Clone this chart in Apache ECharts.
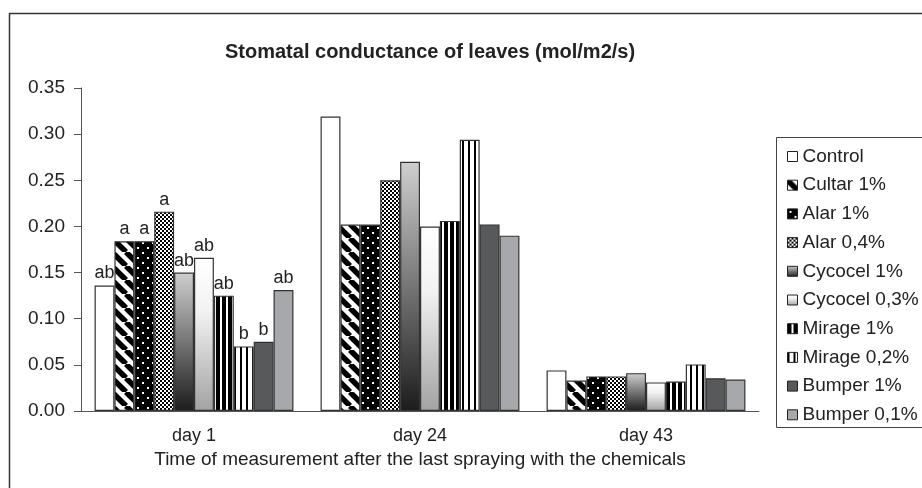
<!doctype html>
<html>
    <head>
        <meta charset="utf-8">
        <style>
            html, body { margin: 0; padding: 0; background: #fff; }
            #main { width: 922px; height: 488px; }
        </style>
    </head>
    <body>
        <div id="main"></div>
        <script src="https://cdn.jsdelivr.net/npm/echarts@6/dist/echarts.min.js"></script>
        <script>
            var days = ['day 1', 'day 24', 'day 43'];
            var treatments = ['Control', 'Cultar 1%', 'Alar 1%', 'Alar 0,4%', 'Cycocel 1%',
                'Cycocel 0,3%', 'Mirage 1%', 'Mirage 0,2%', 'Bumper 1%', 'Bumper 0,1%'];

            // one row per treatment: [day 1, day 24, day 43]
            var values = [
                [0.136, 0.319, 0.044],
                [0.184, 0.202, 0.033],
                [0.184, 0.202, 0.0375],
                [0.216, 0.250, 0.0375],
                [0.150, 0.270, 0.041],
                [0.166, 0.200, 0.031],
                [0.125, 0.206, 0.032],
                [0.070, 0.294, 0.0505],
                [0.075, 0.202, 0.0355],
                [0.131, 0.190, 0.034]
            ];
            // significance letters, day 1 only
            var letters = ['ab', 'a', 'a', 'a', 'ab', 'ab', 'ab', 'b', 'b', 'ab'];

            var font = "'Liberation Sans', Arial, sans-serif";

            function tile(w, h, draw) {
                var c = document.createElement('canvas');
                c.width = w;
                c.height = h;
                draw(c.getContext('2d'), w, h);
                return { image: c, repeat: 'repeat' };
            }

            var fills = [
                '#ffffff',
                tile(14, 14, function (g, s) {
                    g.fillStyle = '#fff';
                    g.fillRect(0, 0, s, s);
                    g.strokeStyle = '#000';
                    g.lineWidth = 5.5;
                    [-s, 0, s].forEach(function (k) {
                        g.beginPath();
                        g.moveTo(k, 0);
                        g.lineTo(k + s, s);
                        g.stroke();
                    });
                }),
                tile(10, 10, function (g, s) {
                    g.fillStyle = '#000';
                    g.fillRect(0, 0, s, s);
                    g.fillStyle = '#fff';
                    g.fillRect(2, 2, 2, 2);
                    g.fillRect(7, 7, 2, 2);
                }),
                tile(4, 4, function (g) {
                    g.fillStyle = '#fff';
                    g.fillRect(0, 0, 4, 4);
                    g.fillStyle = '#000';
                    g.fillRect(0, 0, 2, 2);
                    g.fillRect(2, 2, 2, 2);
                }),
                {
                    type: 'linear', x: 0, y: 0, x2: 0, y2: 1,
                    colorStops: [{ offset: 0, color: '#cfcfcf' }, { offset: 1, color: '#1c1c1c' }]
                },
                {
                    type: 'linear', x: 0, y: 0, x2: 0, y2: 1,
                    colorStops: [{ offset: 0, color: '#ffffff' }, { offset: 0.35, color: '#f2f2f2' }, { offset: 1, color: '#a2a2a2' }]
                },
                tile(6, 6, function (g) {
                    g.fillStyle = '#fff';
                    g.fillRect(0, 0, 6, 6);
                    g.fillStyle = '#000';
                    g.fillRect(0, 0, 4, 6);
                }),
                tile(6, 6, function (g) {
                    g.fillStyle = '#fff';
                    g.fillRect(0, 0, 6, 6);
                    g.fillStyle = '#000';
                    g.fillRect(0, 0, 2, 6);
                }),
                '#58595b',
                '#a7a8ab'
            ];

            var chart = echarts.init(document.getElementById('main'));

            var series = treatments.map(function (name, i) {
                return {
                    name: name,
                    type: 'bar',
                    barGap: '0%',
                    barCategoryGap: '12%',
                    itemStyle: {
                        color: fills[i],
                        borderColor: '#333',
                        borderWidth: 1.2
                    },
                    emphasis: { disabled: true },
                    data: values[i].map(function (v, d) {
                        var item = { value: v };
                        if (d === 0) {
                            item.label = {
                                show: true,
                                position: 'top',
                                distance: 3,
                                formatter: letters[i],
                                fontFamily: font,
                                fontSize: 18,
                                color: '#222'
                            };
                        }
                        return item;
                    })
                };
            });

            chart.setOption({
                animation: false,
                backgroundColor: '#fff',
                title: {
                    text: 'Stomatal conductance of leaves (mol/m2/s)',
                    left: 220,
                    top: 37,
                    textStyle: {
                        fontFamily: font,
                        fontSize: 20,
                        fontWeight: 'bold',
                        color: '#222'
                    }
                },
                legend: {
                    orient: 'vertical',
                    left: 782,
                    top: 142,
                    itemWidth: 10,
                    itemHeight: 10,
                    itemGap: 9.7,
                    icon: 'rect',
                    itemStyle: { borderColor: '#222', borderWidth: 1 },
                    textStyle: { fontFamily: font, fontSize: 19, color: '#222' },
                    data: treatments
                },
                graphic: [
                    {
                        type: 'rect',
                        shape: { x: 9.5, y: 13.5, width: 940, height: 500 },
                        style: { fill: 'none', stroke: '#333', lineWidth: 1.5 },
                        silent: true
                    },
                    {
                        type: 'rect',
                        shape: { x: 776.5, y: 137.5, width: 160, height: 290 },
                        style: { fill: 'none', stroke: '#444', lineWidth: 1 },
                        silent: true
                    }
                ],
                grid: {
                    left: 81,
                    right: 163,
                    top: 88,
                    bottom: 77
                },
                xAxis: {
                    type: 'category',
                    data: days,
                    name: 'Time of measurement after the last spraying with the chemicals',
                    nameLocation: 'middle',
                    nameGap: 37,
                    nameTextStyle: { fontFamily: font, fontSize: 19, color: '#222' },
                    axisLine: { lineStyle: { color: '#555', width: 1 } },
                    axisTick: { length: 5, lineStyle: { color: '#555' } },
                    axisLabel: { margin: 16, fontFamily: font, fontSize: 18, color: '#222' }
                },
                yAxis: {
                    type: 'value',
                    min: 0,
                    max: 0.35,
                    interval: 0.05,
                    splitLine: { show: false },
                    axisLine: { show: true, lineStyle: { color: '#555', width: 1 } },
                    axisTick: { show: true, length: 7, lineStyle: { color: '#555' } },
                    axisLabel: {
                        margin: 16,
                        fontFamily: font,
                        fontSize: 19,
                        color: '#222',
                        formatter: function (v) { return v.toFixed(2); }
                    }
                },
                series: series
            });

            window.onresize = chart.resize;
        </script>
    </body>
</html>
